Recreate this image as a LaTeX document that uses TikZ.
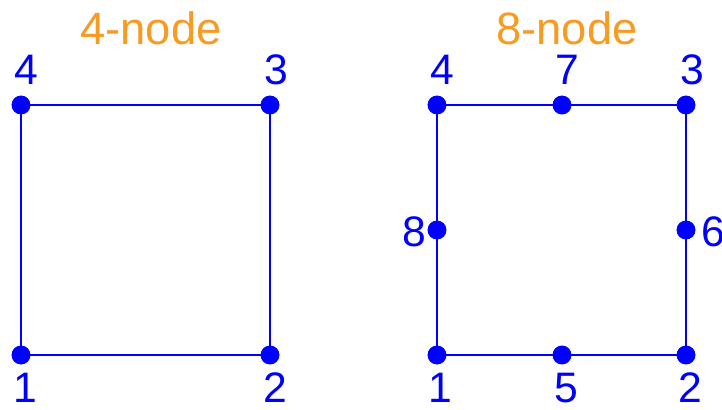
\documentclass[tikz,border=0pt]{standalone}
\usepackage{fontspec}
\setmainfont{Liberation Sans}
\definecolor{titleorange}{RGB}{247,155,35}
\definecolor{meshblue}{RGB}{0,0,255}
\begin{document}
\begin{tikzpicture}[x=0.75pt,y=-0.75pt,
  dot/.style={circle,fill=meshblue,inner sep=0pt,minimum size=14pt},
  edge/.style={draw=meshblue,line width=1.4pt},
  num/.style={text=meshblue,font=\fontsize{32}{36}\selectfont,inner sep=0pt},
  ttl/.style={text=titleorange,font=\fontsize{34}{38}\selectfont,inner sep=0pt}]
\useasboundingbox (0,0) rectangle (722,410);
% 4-node element
\node[dot] (a1) at (21,355) {};
\node[dot] (a2) at (270,355) {};
\node[dot] (a3) at (270,105) {};
\node[dot] (a4) at (21,105) {};
\draw[edge] (a1.center) -- (a2.center) -- (a3.center) -- (a4.center) -- cycle;
\node[dot] at (a1) {};
\node[dot] at (a2) {};
\node[dot] at (a3) {};
\node[dot] at (a4) {};
\node[ttl] (t1) at (151,28) {4-node};
\node[num] (la1) at (25,388) {1};
\node[num] (la2) at (275,388) {2};
\node[num] (la3) at (276,70) {3};
\node[num] (la4) at (26,70) {4};
% 8-node element
\node[dot] (b1) at (437,355) {};
\node[dot] (b2) at (686,355) {};
\node[dot] (b3) at (686,105) {};
\node[dot] (b4) at (437,105) {};
\node[dot] (b5) at (562,355) {};
\node[dot] (b6) at (686,230) {};
\node[dot] (b7) at (562,105) {};
\node[dot] (b8) at (437,230) {};
\draw[edge] (b1.center) -- (b5.center) -- (b2.center) -- (b6.center) -- (b3.center) -- (b7.center) -- (b4.center) -- (b8.center) -- cycle;
\foreach \n in {b1,b2,b3,b4,b5,b6,b7,b8} \node[dot] at (\n) {};
\node[ttl] (t2) at (567,28) {8-node};
\node[num] (lb1) at (440,388) {1};
\node[num] (lb2) at (690,388) {2};
\node[num] (lb3) at (692,70) {3};
\node[num] (lb4) at (442,70) {4};
\node[num] (lb5) at (566,388) {5};
\node[num] (lb6) at (713,232) {6};
\node[num] (lb7) at (567,70) {7};
\node[num] (lb8) at (414,232) {8};
\end{tikzpicture}
\end{document}
